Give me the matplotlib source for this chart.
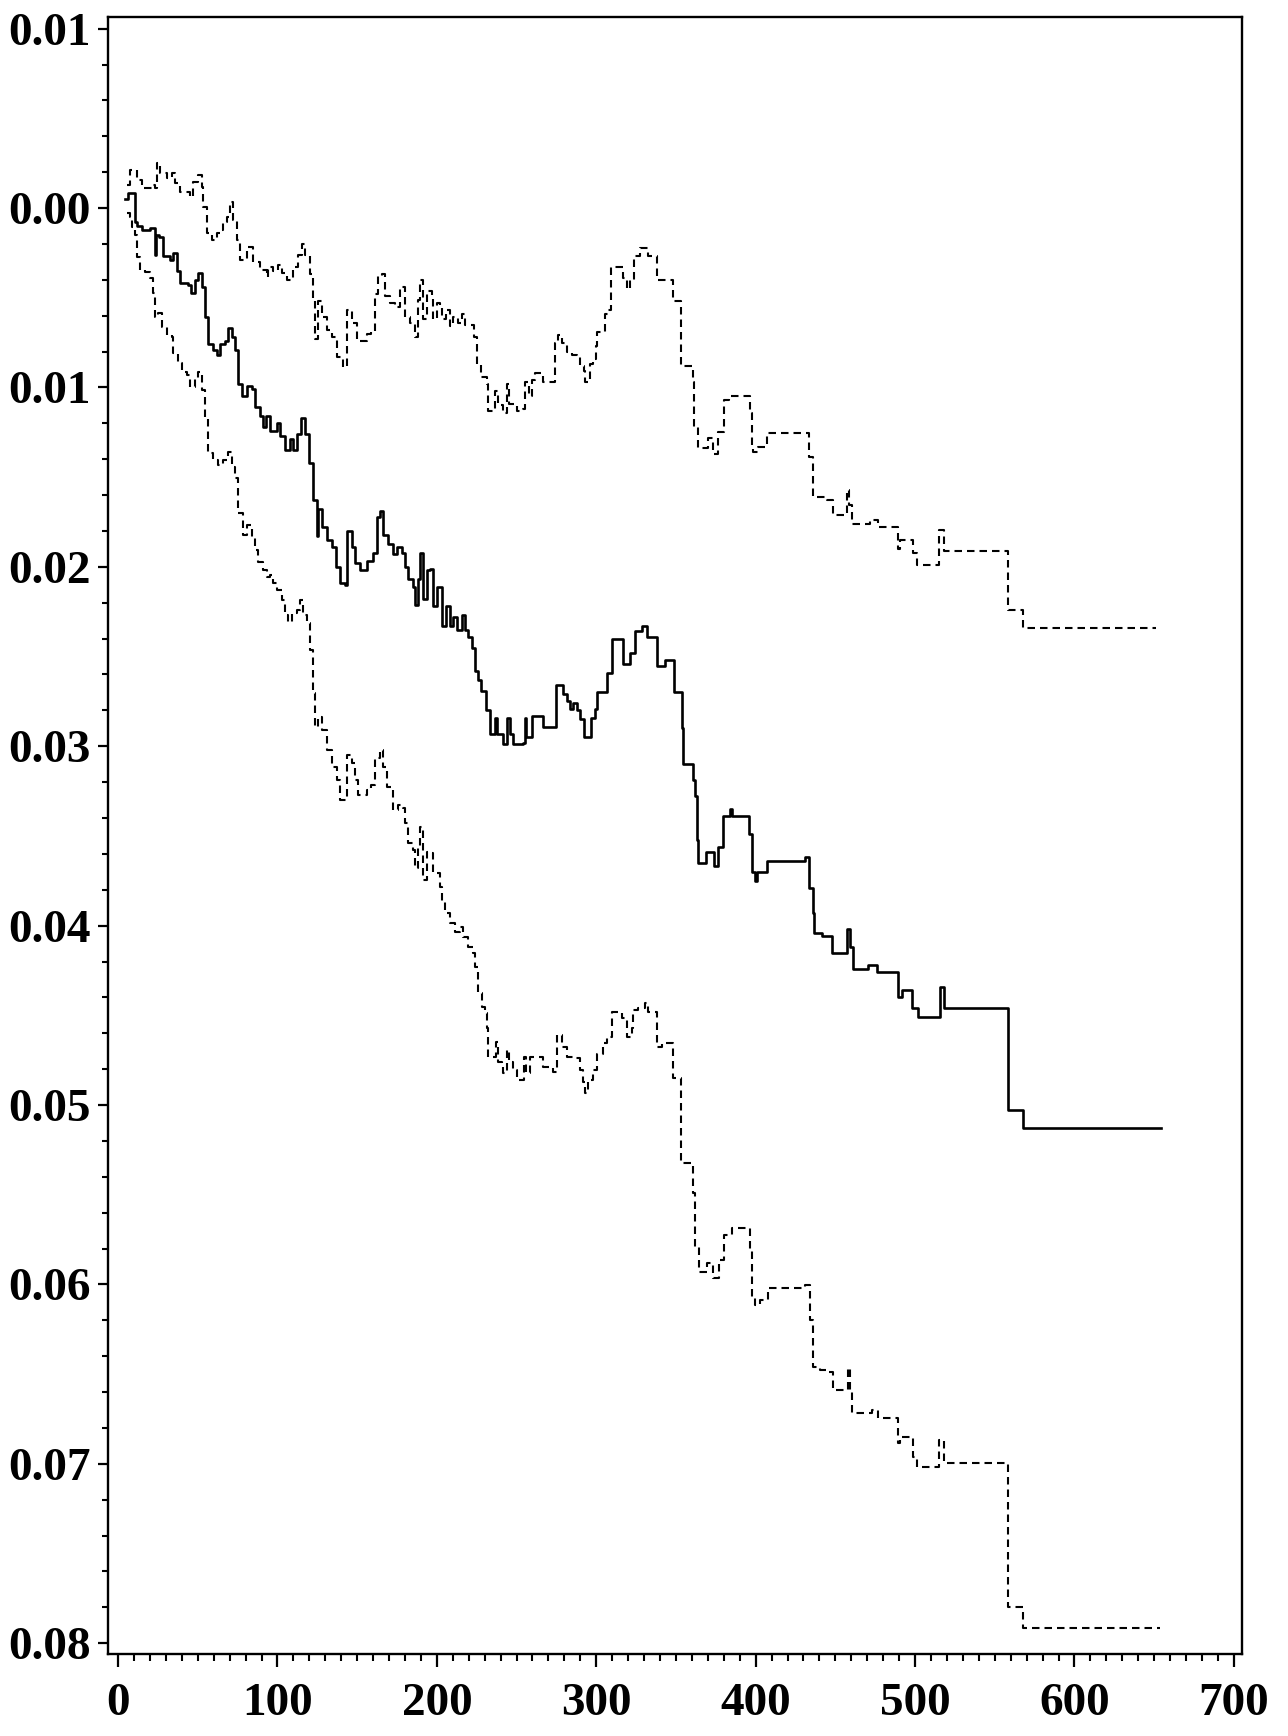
import matplotlib
matplotlib.use("Agg")
from matplotlib import pyplot as plt
from matplotlib.ticker import MultipleLocator, FuncFormatter
import numpy as np

# values, y in thousandths
center_x = [4.4, 6.5, 10.7, 12, 15, 20, 23, 24, 26, 28, 32.6, 34.6, 36.8, 39, 44, 45.6, 48, 50, 52.5,
            54.6, 56.5, 59.7, 62, 64, 67, 69, 71.3, 73.4, 75.4, 77.6, 80.7, 84, 86, 89, 91, 93, 95.4,
            99.6, 101.6, 104.8, 108, 110, 112, 115, 117, 120, 122.5, 124.6, 125.5, 127.8, 131, 134,
            137, 139, 142.4, 143.5, 146.6, 148.7, 151.8, 156, 160, 162.3, 164.4, 166.4, 169.4, 172.5,
            174.8, 178, 180, 182, 185, 186.3, 188, 189.5, 191.5, 193.6, 195.7, 197.8, 200, 203, 206,
            208, 210, 212.5, 215.5, 217.7, 219.7, 222, 224, 226, 228, 231, 233.4, 236.5, 237.5, 239,
            241.7, 243.8, 246, 248, 254, 255, 256, 259.4, 266.8, 275, 279.4, 281.4, 283.6, 285.6,
            287.7, 290, 292, 297, 299.5, 300.5, 306.6, 309.6, 317, 321, 324, 328.5, 332, 338.3, 343,
            348.8, 353.6, 354.6, 361, 362, 363, 364, 369, 373.6, 376.6, 379.8, 384, 385, 396, 397.8,
            399.6, 400.7, 407.4, 431, 433.7, 435.8, 436.6, 441.4, 448.2, 457.5, 459.2, 461, 470.7,
            476.3, 489.5, 491.6, 498.3, 501.6, 515.4, 518, 558.2, 567.6, 654]
center_y = [0.50, 0.82, -0.76, -1.0, -1.23, -1.13, -2.62, -1.5, -1.6, -2.7, -2.9, -2.5, -3.5, -4.2,
            -4.3, -4.75, -4.0, -3.64, -4.4, -6.1, -7.6, -7.9, -8.2, -7.6, -7.4, -6.7, -7.2, -7.9,
            -9.8, -10.5, -9.9, -10.1, -11.1, -11.6, -12.2, -11.6, -12.4, -12.0, -12.7, -13.5, -12.9,
            -13.5, -12.6, -11.7, -12.6, -14.2, -16.3, -18.3, -16.8, -17.8, -18.5, -18.9, -20.0, -20.9,
            -21.0, -18.0, -18.9, -19.8, -20.2, -19.7, -19.2, -17.2, -16.9, -18.2, -18.7, -19.3, -18.9,
            -19.2, -20.0, -20.7, -21.1, -22.1, -20.7, -19.2, -21.8, -20.2, -20.1, -22.2, -21.1, -23.3,
            -22.2, -23.3, -22.8, -23.5, -22.7, -23.5, -23.9, -24.5, -25.8, -26.3, -26.9, -28.0, -29.3,
            -28.4, -29.3, -29.3, -29.9, -28.4, -29.3, -29.9, -29.8, -28.4, -29.5, -28.3, -28.9, -26.6,
            -27.1, -27.5, -27.9, -27.6, -28.0, -28.5, -29.5, -28.4, -27.9, -27.0, -25.9, -24.0, -25.4,
            -24.8, -23.6, -23.3, -23.9, -25.5, -25.2, -27.0, -29.0, -31.0, -31.9, -32.8, -35.2, -36.5,
            -35.9, -36.7, -35.6, -33.9, -33.5, -33.9, -34.9, -37.0, -37.5, -37.0, -36.4, -36.2, -37.9,
            -39.3, -40.4, -40.6, -41.5, -40.2, -41.2, -42.4, -42.2, -42.6, -44.0, -43.6, -44.6, -45.1,
            -43.4, -44.6, -50.3, -51.3, -51.3]

upper_x = [5.4, 7.5, 11.7, 14.9, 21, 23.2, 24.3, 26.4, 30.6, 33.7, 35.8, 38.9, 45.2, 47.2, 50.4,
           52.5, 53.5, 55.6, 58.8, 62, 64, 66, 68.2, 70.3, 72.3, 74.5, 76.5, 80.7, 84.9, 89, 93.3,
           94.3, 97.4, 100.6, 102.7, 105.8, 110, 113, 115.2, 117.3, 120.5, 122.5, 123.6, 125.7, 127.8,
           131, 134, 137.2, 141.4, 143.5, 146.6, 149.8, 156, 159, 161.2, 163.3, 165.4, 167.5, 170.6,
           173.8, 177, 180, 183.2, 186.3, 188.4, 189.5, 191.5, 193.6, 196.8, 197.8, 200, 202, 203.1,
           206, 208.3, 210.4, 213.5, 215.6, 217.5, 220.8, 223, 225, 228, 231.3, 232.3, 236.5, 238.5,
           241.7, 243.8, 245, 250, 254, 255, 257.5, 259.5, 261.6, 266.8, 274, 276.2, 278.4, 281.5,
           284.6, 287.8, 290, 292, 293, 296, 298.2, 300, 300.3, 305.5, 307.6, 309.3, 317, 319, 321.2,
           323.8, 327.5, 332.7, 338.3, 348, 353.2, 360.5, 361.5, 364, 370.3, 373.4, 376.6, 380, 383,
           396.5, 397.5, 398.6, 401.7, 407, 433.7, 435.8, 436.2, 444.6, 448.3, 457, 458.8, 460.3,
           471.8, 477, 489.5, 490.6, 499, 501.4, 515.2, 518.2, 558.2, 567.6, 651]
upper_y = [1.28, 2.1, 1.56, 1.1, 1.28, 1.1, 2.49, 1.93, 1.66, 1.93, 1.4, 0.91, 0.63, 1.47, 1.84,
           1.19, 0.07, -1.41, -1.78, -1.41, -1.23, -0.76, -0.48, 0.35, -0.67, -1.78, -2.9, -2.16,
           -2.99, -3.46, -3.83, -3.3, -3.5, -3.2, -3.6, -4.0, -3.3, -2.62, -2.0, -2.6, -3.7, -5.1,
           -7.3, -5.2, -6.1, -6.8, -7.2, -8.3, -8.85, -5.7, -6.4, -7.4, -7.0, -6.9, -4.8, -3.8, -3.7,
           -4.9, -5.3, -5.5, -4.4, -6.1, -6.4, -7.2, -5.1, -4.0, -6.2, -4.6, -4.9, -6.2, -5.3, -5.5,
           -6.2, -5.7, -6.6, -6.1, -6.4, -5.9, -6.5, -6.5, -7.2, -8.7, -9.4, -9.8, -11.3, -10.2, -11.0,
           -11.4, -9.8, -10.9, -11.3, -11.2, -9.7, -10.5, -9.6, -9.2, -9.7, -7.5, -7.1, -7.5, -8.0,
           -8.2, -8.3, -8.8, -9.1, -9.7, -8.7, -8.4, -7.7, -6.9, -5.9, -5.7, -3.3, -3.9, -4.5, -4.0,
           -2.7, -2.2, -2.7, -4.0, -5.2, -8.8, -9.7, -12.2, -13.4, -12.8, -13.7, -12.5, -10.7, -10.5,
           -11.4, -13.3, -13.6, -13.3, -12.56, -13.86, -15.07, -16.09, -16.3, -17.1, -15.7, -16.55,
           -17.6, -17.4, -17.8, -19.0, -18.5, -19.25, -19.9, -17.95, -19.1, -22.4, -23.4, -23.4]

lower_x = [5.4, 7.5, 8.6, 10.7, 11.7, 13.8, 17, 20, 22.2, 23.2, 25.3, 27.4, 30.6, 33.7, 34.7, 37.8,
           40, 43.1, 45.2, 48.3, 50.4, 52.5, 54.6, 56.6, 59.8, 63, 66, 69.2, 71.3, 73.4, 75.5, 78.6,
           80.7, 83.9, 86, 88, 91.2, 93.3, 95.4, 97.4, 99.6, 102.7, 104.8, 106.8, 109, 112, 114.2,
           116.3, 118.4, 120.5, 122.5, 123.6, 125.7, 127.8, 131, 134, 137.2, 139.3, 143.5, 146.6,
           148.7, 150.8, 156, 159, 161.2, 164.4, 166.4, 168.6, 172.7, 175.9, 179, 180, 182.1, 185.3,
           186.3, 188.4, 189.5, 191.5, 193.6, 195.7, 197.8, 202, 203.1, 205, 208.3, 211.4, 214.6,
           216.6, 219.8, 222.9, 224, 226, 228.2, 230.2, 231.7, 232.3, 237.1, 238.6, 240.7, 241.7,
           243.8, 245, 248, 250.1, 254.7, 256, 258.5, 266.8, 273.1, 275.2, 278.4, 281.5, 286.7,
           289.8, 291.9, 293, 295, 298.2, 300.4, 304.5, 306.6, 309.7, 316, 319.2, 322.3, 323.3,
           326.4, 330.6, 332.7, 338.3, 341.1, 348, 353.2, 360.5, 362, 364.7, 369.3, 373.5, 377.2,
           380, 385, 396.5, 397.6, 399.6, 402.8, 408, 431, 434.1, 436.2, 440.4, 444.6, 448.8, 457.8,
           459, 460.3, 472.8, 477, 489.5, 490.6, 498.5, 501, 515.2, 518.2, 558, 567.6, 653.7]
lower_y = [-0.30, -0.48, -1.04, -1.5, -2.71, -3.46, -3.55, -3.92, -4.75, -6.06, -5.87, -6.62, -7.08,
           -7.17, -8.1, -8.65, -9.12, -9.31, -9.96, -9.49, -9.12, -10.14, -11.63, -13.67, -14.05,
           -14.33, -14.05, -13.58, -14.42, -15.07, -17.0, -18.23, -17.67, -18.32, -19.06, -19.72,
           -20.18, -20.55, -20.46, -20.92, -21.29, -21.85, -22.69, -23.06, -22.59, -22.41, -21.85,
           -22.69, -23.15, -24.64, -27.05, -28.91, -28.36, -29.1, -30.21, -31.14, -31.88, -33.0,
           -30.49, -30.95, -31.88, -32.72, -32.44, -32.16, -30.67, -30.21, -31.14, -32.26, -33.56,
           -33.28, -33.46, -34.3, -35.41, -35.79, -36.81, -35.6, -34.49, -37.46, -35.88, -35.97,
           -37.09, -37.83, -38.6, -39.31, -39.87, -40.34, -40.06, -40.62, -41.18, -41.54, -42.29,
           -43.77, -44.52, -44.89, -45.72, -47.31, -46.47, -47.59, -47.77, -48.23, -46.93, -47.6,
           -48.05, -48.61, -47.31, -48.2, -47.31, -47.87, -48.14, -46.1, -46.75, -47.31, -47.4,
           -48.05, -48.7, -49.31, -48.61, -48.05, -47.13, -46.56, -46.19, -44.8, -45.17, -46.19,
           -45.72, -44.7, -44.61, -44.33, -44.8, -46.75, -46.56, -48.51, -53.25, -54.92, -57.9,
           -59.29, -58.82, -59.66, -58.64, -57.27, -56.87, -58.08, -60.68, -61.15, -60.87, -60.22,
           -60.03, -61.98, -64.59, -64.77, -64.86, -65.89, -64.68, -65.89, -67.19, -67.0, -67.46,
           -68.86, -68.49, -69.6, -70.16, -68.67, -69.97, -78.0, -79.14, -79.14]

plt.rcParams["font.family"] = "Liberation Serif"
plt.rcParams["font.weight"] = "bold"

fig = plt.figure(figsize=(12.88, 17.36), dpi=100)
ax = fig.add_axes([108 / 1288, 1 - 1654 / 1736, 1134 / 1288, 1637 / 1736])

ax.step(center_x, np.array(center_y) * 1e-3, where="post", color="black", linewidth=1.9)
ax.step(upper_x, np.array(upper_y) * 1e-3, where="post", color="black", linewidth=1.5,
        linestyle=(0, (3.6, 2.4)))
ax.step(lower_x, np.array(lower_y) * 1e-3, where="post", color="black", linewidth=1.5,
        linestyle=(0, (3.6, 2.4)))

ax.set_xlim(-6.3, 705.1)
ax.set_ylim(-0.0806, 0.01065)

ax.xaxis.set_major_locator(MultipleLocator(100))
ax.xaxis.set_minor_locator(MultipleLocator(10))
ax.yaxis.set_major_locator(MultipleLocator(0.01))
ax.yaxis.set_minor_locator(MultipleLocator(0.002))
ax.yaxis.set_major_formatter(FuncFormatter(lambda v, p: f"{abs(v):.2f}"))

ax.tick_params(axis="x", which="major", direction="out", length=9, width=1.6, pad=12, labelsize=34)
ax.tick_params(axis="x", which="minor", direction="out", length=5, width=1.5)
ax.tick_params(axis="y", which="major", direction="out", length=7.2, width=1.6, pad=5, labelsize=34)
ax.tick_params(axis="y", which="minor", direction="out", length=4.3, width=1.5)
for s in ax.spines.values():
    s.set_linewidth(1.7)

fig.savefig("out.png", dpi=100)
